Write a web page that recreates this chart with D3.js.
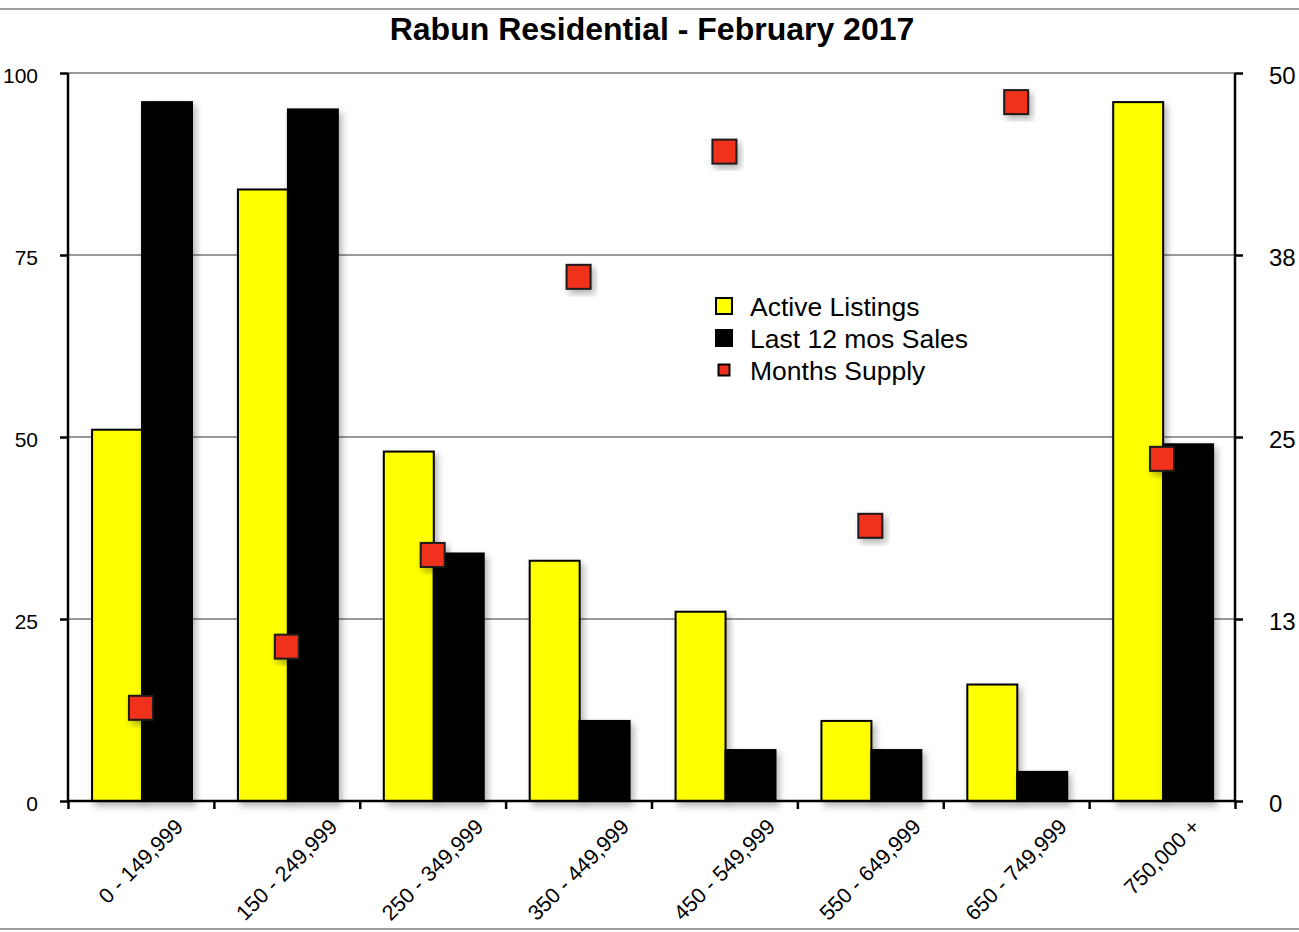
<!DOCTYPE html>
<html>
<head>
<meta charset="utf-8">
<script src="https://cdn.jsdelivr.net/npm/d3@7"></script>
<style>
  body { margin: 0; background: #fff; }
  text { font-family: "Liberation Sans", Arial, sans-serif; }
</style>
</head>
<body>
<div id="chart"></div>
<script>
const categories = ["0 - 149,999", "150 - 249,999", "250 - 349,999", "350 - 449,999",
    "450 - 549,999", "550 - 649,999", "650 - 749,999", "750,000 +"];
const activeListings = [51, 84, 48, 33, 26, 11, 16, 96];
const lastSales = [96, 95, 34, 11, 7, 7, 4, 49];
const monthsSupply = [6.4, 10.6, 16.9, 36.0, 44.6, 18.9, 48.0, 23.5];
const leftTicks = [0, 25, 50, 75, 100];
const rightTicks = [0, 12.5, 25, 37.5, 50];
const rightTickLabels = ["0", "13", "25", "38", "50"];

const W = 1299, H = 932;
const margin = { top: 73, right: 64, bottom: 131, left: 68 };
const width = W - margin.left - margin.right;
const height = H - margin.top - margin.bottom;

const svg = d3.select("#chart").append("svg")
    .attr("width", W)
    .attr("height", H);

const defs = svg.append("defs");
const shadow = defs.append("filter").attr("id", "shadow")
    .attr("x", "-20%").attr("y", "-20%").attr("width", "150%").attr("height", "150%");
shadow.append("feDropShadow")
    .attr("dx", 3).attr("dy", 4).attr("stdDeviation", 3.5)
    .attr("flood-color", "#000").attr("flood-opacity", 0.3);

// frame lines
svg.append("line").attr("x1", 0).attr("x2", W).attr("y1", 9).attr("y2", 9)
    .attr("stroke", "#a0a0a0").attr("stroke-width", 2);
svg.append("line").attr("x1", 0).attr("x2", W).attr("y1", 929).attr("y2", 929)
    .attr("stroke", "#a0a0a0").attr("stroke-width", 2);

svg.append("text")
    .attr("x", 652).attr("y", 40)
    .attr("text-anchor", "middle")
    .attr("font-size", 32).attr("font-weight", "bold")
    .text("Rabun Residential - February 2017");

const g = svg.append("g")
    .attr("transform", `translate(${margin.left}, ${margin.top})`);

const x0 = d3.scaleBand().domain(categories).range([0, width]);
const keys = ["active", "sales"];
const x1 = d3.scaleBand().domain(keys)
    .range([x0.bandwidth() * 0.165, x0.bandwidth() * 0.85]);
const y = d3.scaleLinear().domain([0, 100]).range([height, 0]);
const y2 = d3.scaleLinear().domain([0, 50]).range([height, 0]);

// gridlines
g.append("g")
    .selectAll("line")
    .data(leftTicks.filter((d) => d > 0))
    .join("line")
    .attr("x1", 0).attr("x2", width)
    .attr("y1", (d) => y(d)).attr("y2", (d) => y(d))
    .attr("stroke", "#999").attr("stroke-width", 2);

// bars
const rows = categories.map((c, i) => ({ cat: c, active: activeListings[i], sales: lastSales[i] }));
const colors = { active: "#ffff00", sales: "#000000" };

g.append("g")
    .selectAll("g")
    .data(rows)
    .join("g")
    .attr("transform", (d) => `translate(${x0(d.cat)}, 0)`)
    .selectAll("rect")
    .data((d) => keys.map((k) => ({ key: k, value: d[k] })))
    .join("rect")
    .attr("x", (d) => x1(d.key))
    .attr("y", (d) => y(d.value))
    .attr("width", x1.bandwidth())
    .attr("height", (d) => height - y(d.value))
    .attr("fill", (d) => colors[d.key])
    .attr("stroke", "#000")
    .attr("stroke-width", 2)
    .attr("filter", "url(#shadow)");

// axes
const leftAxis = g.append("g")
    .call(d3.axisLeft(y).tickValues(leftTicks).tickSize(8).tickPadding(22).tickFormat(d3.format("d")));
const rightAxis = g.append("g")
    .attr("transform", `translate(${width}, 0)`)
    .call(d3.axisRight(y2).tickValues(rightTicks).tickSize(8).tickPadding(26)
        .tickFormat((d, i) => rightTickLabels[i]));
const bottomAxis = g.append("g")
    .attr("transform", `translate(0, ${height})`)
    .call(d3.axisBottom(d3.scaleLinear().domain([0, categories.length]).range([0, width]))
        .tickValues(d3.range(categories.length + 1)).tickSize(8).tickFormat(""));

[leftAxis, rightAxis, bottomAxis].forEach((ax) => {
    ax.select(".domain").attr("stroke", "#000").attr("stroke-width", 2.5)
        .attr("d", ax === bottomAxis ? `M0,0H${width}` : `M0,0V${height}`);
    ax.selectAll(".tick line").attr("stroke", "#000").attr("stroke-width", 2.5);
    ax.selectAll(".tick text").attr("fill", "#000")
        .attr("font-family", "'Liberation Sans', Arial, sans-serif");
});
leftAxis.selectAll(".tick text").attr("font-size", 21).attr("dy", "0.45em");
rightAxis.selectAll(".tick text").attr("font-size", 24).attr("dy", "0.42em");

// rotated category labels
g.append("g")
    .selectAll("text")
    .data(categories)
    .join("text")
    .attr("font-size", 21.5)
    .attr("text-anchor", "end")
    .text((d) => d)
    .each(function (d) {
        const len = this.getComputedTextLength();
        const cx = x0(d) + x0.bandwidth() / 2 + len * 0.3536 + 5;
        const cy = height + 27;
        d3.select(this).attr("transform", `translate(${cx}, ${cy}) rotate(-45)`);
    });

// months supply markers
g.append("g")
    .selectAll("rect")
    .data(monthsSupply)
    .join("rect")
    .attr("x", (d, i) => x0(categories[i]) + x0.bandwidth() / 2 - 12)
    .attr("y", (d) => y2(d) - 12)
    .attr("width", 24).attr("height", 24)
    .attr("fill", "#f0301f")
    .attr("stroke", "#1a1a1a").attr("stroke-width", 2)
    .attr("filter", "url(#shadow)");

// legend
const legendItems = [
    { label: "Active Listings", fill: "#ffff00", size: 16 },
    { label: "Last 12 mos Sales", fill: "#000000", size: 16 },
    { label: "Months Supply", fill: "#f0301f", size: 11 },
];
const legend = svg.append("g").attr("transform", "translate(724, 306)");
legend.selectAll("rect")
    .data(legendItems)
    .join("rect")
    .attr("x", (d) => -d.size / 2)
    .attr("y", (d, i) => i * 32 - d.size / 2)
    .attr("width", (d) => d.size).attr("height", (d) => d.size)
    .attr("fill", (d) => d.fill)
    .attr("stroke", "#000").attr("stroke-width", 2);
legend.selectAll("text")
    .data(legendItems)
    .join("text")
    .attr("x", 26)
    .attr("y", (d, i) => i * 32)
    .attr("dy", "0.36em")
    .attr("font-size", 26.5)
    .text((d) => d.label);
</script>
</body>
</html>
